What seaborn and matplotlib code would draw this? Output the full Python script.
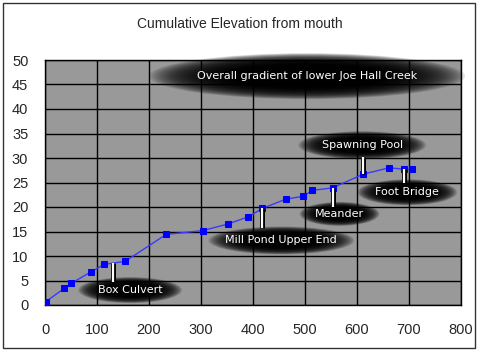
import numpy as np
import matplotlib
matplotlib.use("Agg")
import matplotlib.pyplot as plt
import matplotlib.patheffects as pe
from matplotlib.patches import Ellipse, Rectangle
from matplotlib.transforms import IdentityTransform
import pandas as pd
import seaborn as sns

# distance from mouth vs cumulative elevation
distance = [2, 37, 50, 89, 114, 154, 233, 304, 351, 391, 418, 463, 497, 514,
            553, 612, 662, 691, 705]
elevation = [0.7, 3.4, 4.4, 6.8, 8.3, 8.9, 14.4, 15.2, 16.5, 18.0, 19.7, 21.6,
             22.2, 23.4, 23.9, 26.7, 28.0, 27.7, 27.7]

label_names = ["Box Culvert", "Mill Pond Upper End", "Meander",
               "Spawning Pool", "Foot Bridge"]
label_x = [131, 418, 553, 612, 691]

title = "Cumulative Elevation from mouth"
note = "Overall gradient of lower Joe Hall Creek"

df = pd.DataFrame({"distance": distance, "elevation": elevation})

sns.set_style("white")
plt.rcParams["font.family"] = ["Liberation Sans", "DejaVu Sans"]

fig = plt.figure(figsize=(4.8, 3.52), dpi=100)
ax = fig.add_axes([45 / 480, 47 / 352, 416 / 480, 245 / 352])
ax.set_facecolor("#999999")

sns.lineplot(data=df, x="distance", y="elevation", ax=ax, color="#3a3aff",
             lw=1, marker="s", markersize=4.5, markerfacecolor="#0000ff",
             markeredgecolor="#0000ff", zorder=3)

ax.set_xlim(0, 800)
ax.set_ylim(0, 50)
ax.set_xticks(range(0, 801, 100))
ax.set_yticks(range(0, 51, 5))
ax.grid(True, color="black", lw=1)
ax.set_axisbelow(True)
for s in ax.spines.values():
    s.set_color("black")
    s.set_linewidth(1)
ax.tick_params(length=0, labelsize=10.5)
ax.tick_params(axis="x", pad=13)
ax.tick_params(axis="y", pad=12)
ax.set_xlabel("")
ax.set_ylabel("")
fig.text(0.5, 1 - 24 / 352, title, ha="center", va="center", fontsize=10)

fig.patches.append(Rectangle((3 / 480, 4 / 352), 472 / 480, 345 / 352,
                             transform=fig.transFigure, fill=False,
                             ec="#333333", lw=1))

fig.canvas.draw()


def glow(cx, cy, w, h):
    # fake blurred black blob with stacked ellipses
    n = 30
    for i in range(n):
        s = 1.0 - 0.5 * i / (n - 1)
        e = Ellipse((cx, cy), w * s, h * s, transform=IdentityTransform(),
                    fc="black", ec="none", alpha=0.1, clip_on=False, zorder=4)
        ax.add_patch(e)


def label_text(cx, cy, txt):
    ax.text(cx, cy, txt, transform=IdentityTransform(), color="white",
            fontsize=8, family="DejaVu Sans",
            ha="center", va="center", zorder=6, clip_on=False)


# (dx, dy, line end, width, height) in pixels, relative to pointed point
layout = [(17, -27, -19, 104, 26), (19, -32, -20, 146, 28),
          (7, -26, -19, 80, 24), (-1, 29, 17, 128, 28), (3, -23, -14, 100, 26)]

ys = np.interp(label_x, distance, elevation)
for name, x, y, (dx, dy, le, w, h) in zip(label_names, label_x, ys, layout):
    px, py = ax.transData.transform((x, y))
    glow(px + dx, py + dy, w, h)
    ax.plot([px, px], [py, py + le], transform=IdentityTransform(),
            color="white", lw=1.6, zorder=5, solid_capstyle="butt",
            path_effects=[pe.Stroke(linewidth=3.6, foreground="black"),
                          pe.Normal()])
    label_text(px + dx, py + dy, name)

cx, cy = ax.transData.transform((504, 46.7))
glow(cx, cy, 316, 46)
label_text(cx, cy, note)

fig.savefig("out.png", dpi=100)
